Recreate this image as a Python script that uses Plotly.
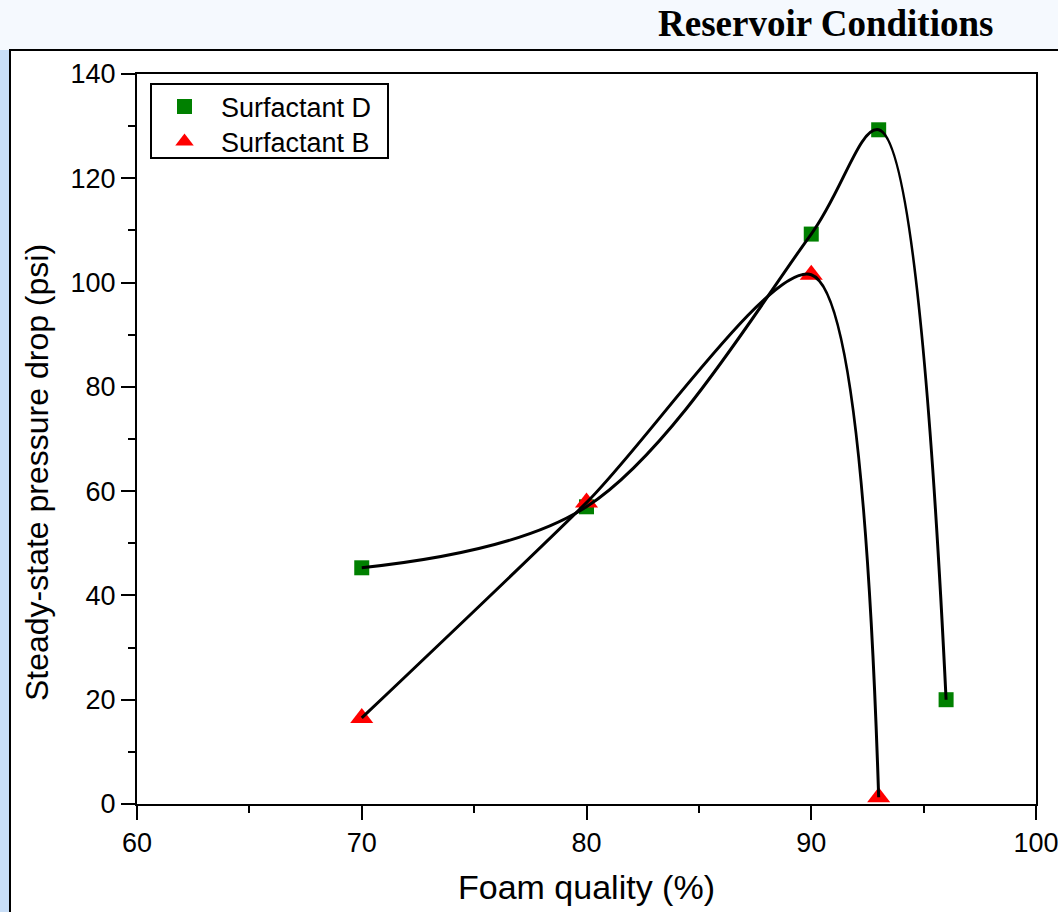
import plotly.graph_objects as go

# Data
foam_quality_D = [70, 80, 90, 93, 96]
pressure_D = [45.3, 57.0, 109.3, 129.3, 20.0]
foam_quality_B = [70, 80, 90, 93]
pressure_B = [16.5, 57.8, 101.5, 1.3]

x_ticks = [60, 70, 80, 90, 100]
y_ticks = [0, 20, 40, 60, 80, 100, 120, 140]

W, H = 1058, 912
L, R, T, B = 137, 1036, 74, 804  # plot area in pixels


def px(xp):
    return (xp - L) / (R - L)


def py(yp):
    return (B - yp) / (B - T)


fig = go.Figure()

# markers (drawn first so curves lie on top)
fig.add_trace(go.Scatter(
    x=foam_quality_D, y=pressure_D, mode="markers", name="Surfactant D",
    marker=dict(symbol="square", size=15, color="#008000"), legend="legend",
))
fig.add_trace(go.Scatter(
    x=foam_quality_B, y=pressure_B, mode="markers", name="Surfactant B",
    marker=dict(symbol="triangle-up", size=20, color="#ff0000"), legend="legend2",
))
# smooth curves
fig.add_trace(go.Scatter(
    x=foam_quality_D, y=pressure_D, mode="lines", showlegend=False,
    line=dict(color="black", width=3, shape="spline", smoothing=1.0),
))
fig.add_trace(go.Scatter(
    x=foam_quality_B, y=pressure_B, mode="lines", showlegend=False,
    line=dict(color="black", width=3, shape="spline", smoothing=0.8),
))

FAM = "Arial, Liberation Sans, sans-serif"
axis_font = dict(family=FAM, size=27, color="black")

fig.update_xaxes(
    range=[60, 100], tickvals=x_ticks, ticktext=[str(v) for v in x_ticks],
    showline=True, linecolor="black", linewidth=2, mirror=True,
    ticks="outside", ticklen=14, tickwidth=2, tickcolor="black",
    minor=dict(ticks="outside", ticklen=7, tickwidth=2, tickcolor="black", dtick=5, showgrid=False),
    showgrid=False, zeroline=False, tickfont=axis_font, ticklabeloverflow="allow",
    title=dict(text="Foam quality (%)", font=dict(family=FAM, size=34, color="black"), standoff=18),
)
fig.update_yaxes(
    range=[0, 140], tickvals=y_ticks, ticktext=[str(v) for v in y_ticks],
    showline=True, linecolor="black", linewidth=2, mirror=True,
    ticks="outside", ticklen=14, tickwidth=2, tickcolor="black",
    minor=dict(ticks="outside", ticklen=7, tickwidth=2, tickcolor="black", dtick=10, showgrid=False),
    showgrid=False, zeroline=False, tickfont=axis_font, ticklabeloverflow="allow",
)

shapes = [
    # left light-blue strip
    dict(type="rect", xref="paper", yref="paper", layer="below",
         x0=px(-5), x1=px(10), y0=py(50), y1=py(H + 5),
         fillcolor="#c8def7", line=dict(width=0)),
    # white panel with frame
    dict(type="rect", xref="paper", yref="paper", layer="below",
         x0=px(10), x1=px(W + 10), y0=py(H + 10), y1=py(50),
         fillcolor="white", line=dict(color="black", width=2)),
    # legend box
    dict(type="rect", xref="paper", yref="paper", layer="below",
         x0=px(151), x1=px(388), y0=py(158), y1=py(84),
         fillcolor="white", line=dict(color="black", width=2)),
]

leg_common = dict(
    xanchor="left", yanchor="middle", borderwidth=0, bgcolor="rgba(0,0,0,0)",
    font=dict(family=FAM, size=27, color="black"), itemwidth=63,
)

fig.update_layout(
    width=W, height=H,
    margin=dict(l=L, r=W - R, t=T, b=H - B, autoexpand=False),
    paper_bgcolor="#f5f9fe", plot_bgcolor="rgba(0,0,0,0)",
    shapes=shapes,
    showlegend=True,
    legend=dict(x=px(148), y=py(107), **leg_common),
    legend2=dict(x=px(148), y=py(142), **leg_common),
    annotations=[
        dict(text="<b>Reservoir Conditions</b>", xref="paper", yref="paper",
             x=px(825), y=py(24), xanchor="center", yanchor="middle", showarrow=False,
             font=dict(family="Times New Roman, Liberation Serif, serif", size=37, color="black")),
        dict(text="Steady-state pressure drop (psi)", xref="paper", yref="paper",
             x=px(37), y=py(473), xanchor="center", yanchor="middle", showarrow=False,
             textangle=-90, font=dict(family=FAM, size=32, color="black")),
    ],
)

fig.write_html("out.html")
